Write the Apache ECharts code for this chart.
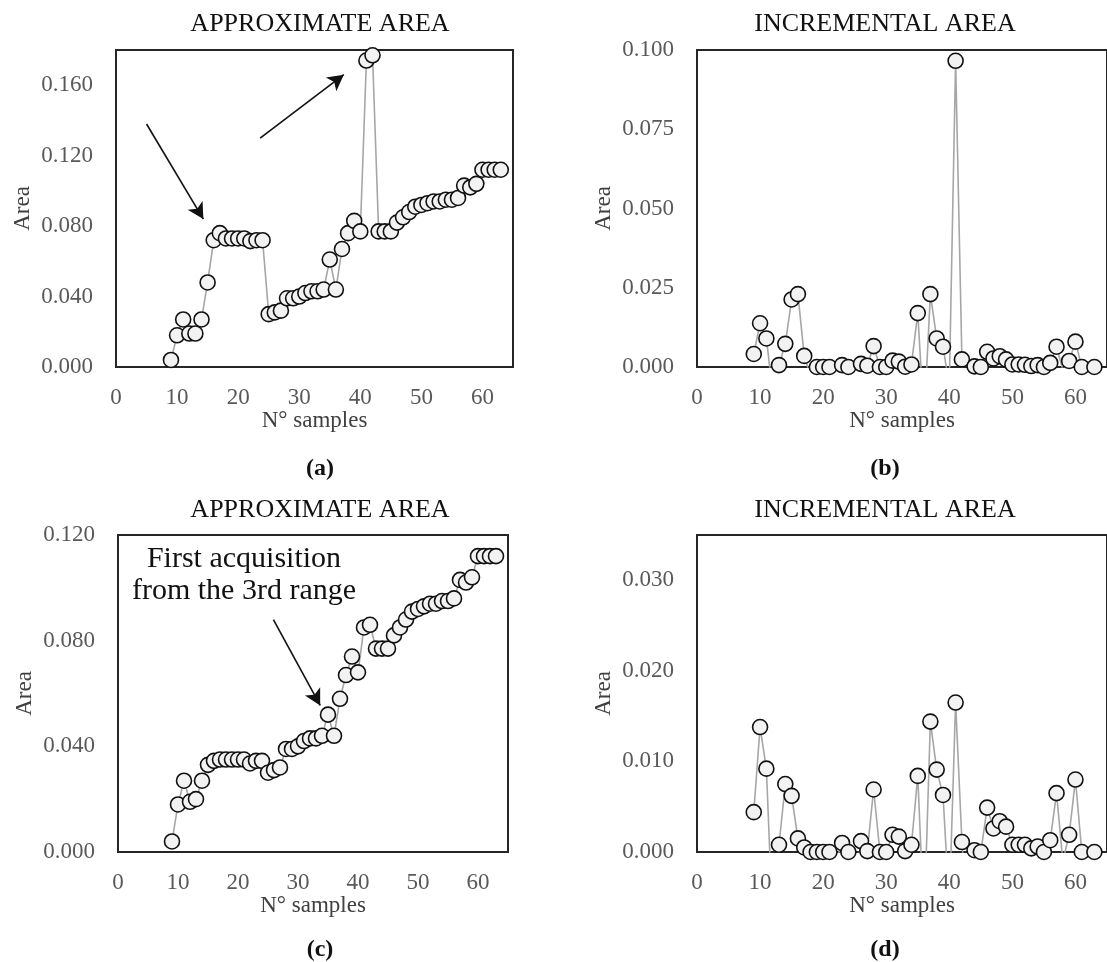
<!DOCTYPE html>
<html>
<head>
<meta charset="utf-8">
<script src="https://cdn.jsdelivr.net/npm/echarts@6/dist/echarts.min.js"></script>
<style>
  html, body { margin: 0; padding: 0; background: #ffffff; }
  #chart { width: 1107px; height: 962px; }
</style>
</head>
<body>
<div id="chart"></div>
<script>
// Sample index (N° samples)
const samples = [9,10,11,12,13,14,15,16,17,18,19,20,21,22,23,24,25,26,27,28,29,30,31,32,33,34,35,36,
  37,38,39,40,41,42,43,44,45,46,47,48,49,50,51,52,53,54,55,56,57,58,59,60,61,62,63];

// (a) approximate area, raw acquisitions
const approxArea = [0.004,0.018,0.027,0.019,0.019,0.027,0.048,0.072,0.076,0.073,0.073,0.073,0.073,0.0715,
  0.072,0.072,0.030,0.031,0.032,0.039,0.039,0.040,0.042,0.043,0.043,0.044,0.061,0.044,
  0.067,0.076,0.083,0.077,0.174,0.177,0.077,0.077,0.077,0.082,0.085,0.088,0.091,0.092,0.093,0.094,0.094,0.095,
  0.095,0.096,0.103,0.102,0.104,0.112,0.112,0.112,0.112];

// (b) incremental area, raw acquisitions (negative steps fall below the axis)
const incrArea = [0.0041,0.0138,0.0090,-0.008,0.0006,0.0073,0.0213,0.0230,0.0035,-0.003,0.0000,0.0000,0.0000,-0.0010,
  0.0006,0.0000,-0.042,0.0010,0.0004,0.0066,0.0000,0.0000,0.0020,0.0017,0.0001,0.0008,0.0170,-0.017,
  0.0230,0.0090,0.0064,-0.006,0.0966,0.0024,-0.100,0.0002,0.0000,0.0048,0.0027,0.0034,0.0024,0.0008,0.0008,0.0007,
  0.0003,0.0006,0.0000,0.0013,0.0064,-0.001,0.0019,0.0080,0.0000,-0.0005,0.0000];

// (c) approximate area, corrected acquisitions
const approxAreaCorr = [0.004,0.018,0.027,0.019,0.020,0.027,0.033,0.0345,0.035,0.035,0.035,0.035,0.035,0.0335,
  0.0345,0.0345,0.030,0.031,0.032,0.039,0.039,0.040,0.042,0.043,0.043,0.044,0.052,0.044,
  0.058,0.067,0.074,0.068,0.085,0.086,0.077,0.077,0.077,0.082,0.085,0.088,0.091,0.092,0.093,0.094,0.094,0.095,
  0.095,0.096,0.103,0.102,0.104,0.112,0.112,0.112,0.112];

// (d) incremental area, corrected acquisitions
const incrAreaCorr = [0.0044,0.0138,0.0092,-0.008,0.0008,0.0075,0.0062,0.0015,0.0005,0.0000,0.0000,0.0000,0.0000,-0.0010,
  0.0010,0.0000,-0.004,0.0012,0.0001,0.0069,0.0000,0.0000,0.0019,0.0017,0.0001,0.0008,0.0084,-0.008,
  0.0144,0.0091,0.0063,-0.006,0.0165,0.0011,-0.008,0.0002,0.0000,0.0049,0.0026,0.0034,0.0028,0.0008,0.0008,0.0008,
  0.0004,0.0006,0.0000,0.0013,0.0065,-0.001,0.0019,0.0080,0.0000,-0.0005,0.0000];

const xTicks = [0, 10, 20, 30, 40, 50, 60];
const panelTitles = ['APPROXIMATE AREA', 'INCREMENTAL AREA', 'APPROXIMATE AREA', 'INCREMENTAL AREA'];
const panelTags = ['a', 'b', 'c', 'd'];
const annotationLines = ['First acquisition', 'from the 3rd range'];

const SERIF = "'Liberation Serif', 'Times New Roman', serif";
const LABEL_GRAY = '#595959';

const grids = [
  { left: 116, top: 50, width: 397, height: 317 },
  { left: 697, top: 50, width: 412, height: 317 },
  { left: 118, top: 535, width: 390, height: 317 },
  { left: 697, top: 535, width: 412, height: 317 }
];

const yRanges = [
  { max: 0.18, interval: 0.04 },
  { max: 0.10, interval: 0.025 },
  { max: 0.12, interval: 0.04 },
  { max: 0.035, interval: 0.01 }
];

const seriesValues = [approxArea, incrArea, approxAreaCorr, incrAreaCorr];

function pairs(vals) {
  return samples.map((n, i) => [n, vals[i]]);
}

const option = {
  animation: false,
  backgroundColor: '#ffffff',
  title: [],
  grid: grids.map(g => Object.assign({
    show: true, borderColor: '#262626', borderWidth: 2, backgroundColor: 'transparent', containLabel: false
  }, g)),
  xAxis: grids.map((g, i) => ({
    type: 'value', gridIndex: i, min: 0, max: 65, interval: 10,
    name: 'N° samples', nameLocation: 'middle', nameGap: 38,
    nameTextStyle: { fontFamily: SERIF, fontSize: 23, color: '#404040' },
    axisLine: { show: false }, axisTick: { show: false }, splitLine: { show: false },
    axisLabel: {
      fontFamily: SERIF, fontSize: 23, color: LABEL_GRAY, margin: 19,
      showMaxLabel: false,
      formatter: v => (xTicks.indexOf(Math.round(v)) >= 0 ? String(Math.round(v)) : '')
    }
  })),
  yAxis: grids.map((g, i) => ({
    type: 'value', gridIndex: i, min: 0, max: yRanges[i].max, interval: yRanges[i].interval,
    name: 'Area', nameLocation: 'middle', nameGap: 82, nameRotate: 90,
    nameTextStyle: { fontFamily: SERIF, fontSize: 23, color: '#404040' },
    axisLine: { show: false }, axisTick: { show: false }, splitLine: { show: false },
    axisLabel: {
      fontFamily: SERIF, fontSize: 23, color: LABEL_GRAY, margin: 23,
      showMaxLabel: i === 0 || i === 3 ? false : true,
      formatter: v => v.toFixed(3)
    }
  })),
  series: seriesValues.map((vals, i) => ({
    type: 'line', xAxisIndex: i, yAxisIndex: i,
    data: pairs(vals),
    clip: true,
    symbol: 'circle', symbolSize: 15,
    lineStyle: { color: '#a6a6a6', width: 1.6 },
    itemStyle: { color: '#f2f2f2', borderColor: '#111111', borderWidth: 1.6 },
    emphasis: { disabled: true },
    z: 3
  })),
  graphic: []
};

// Panel titles and sub-figure tags
const titleCentersX = [315, 880, 315, 880];
const titleTops = [6, 6, 492, 492];
const tagTops = [452, 452, 933, 933];
panelTitles.forEach((t, i) => {
  option.title.push({
    text: t, left: titleCentersX[i], top: titleTops[i], textAlign: 'center',
    textStyle: { fontFamily: SERIF, fontSize: 26, fontWeight: 'normal', color: '#111111' }
  });
  option.title.push({
    text: '{p|(}{b|' + panelTags[i] + '}{p|)}', left: titleCentersX[i], top: tagTops[i], textAlign: 'center',
    textStyle: {
      rich: {
        p: { fontFamily: SERIF, fontSize: 24, color: '#111111' },
        b: { fontFamily: SERIF, fontSize: 24, fontWeight: 'bold', color: '#111111' }
      }
    }
  });
});

// Arrows pointing at the anomalous acquisitions
const arrowStyle = { color: '#111111', width: 1.6, type: 'solid' };
option.series[0].markLine = {
  silent: true, symbol: ['none', 'arrow'], symbolSize: [13, 16],
  label: { show: false }, lineStyle: arrowStyle,
  data: [
    [{ coord: [5.0, 0.138] }, { coord: [14.3, 0.084] }],
    [{ coord: [23.6, 0.130] }, { coord: [37.3, 0.166] }]
  ]
};
option.series[2].markLine = {
  silent: true, symbol: ['none', 'arrow'], symbolSize: [13, 16],
  label: { show: false }, lineStyle: arrowStyle,
  data: [
    [{ coord: [25.9, 0.088] }, { coord: [33.7, 0.0555] }]
  ]
};

// Annotation text in panel (c), centred over the rising part of the curve
option.graphic.push({
  type: 'text', x: 244, y: 543,
  style: {
    text: annotationLines.join('\n'), align: 'center', verticalAlign: 'top',
    font: "30px " + SERIF, lineHeight: 32, fill: '#111111'
  }
});

const chart = echarts.init(document.getElementById('chart'), null, { renderer: 'canvas' });
chart.setOption(option);
</script>
</body>
</html>
